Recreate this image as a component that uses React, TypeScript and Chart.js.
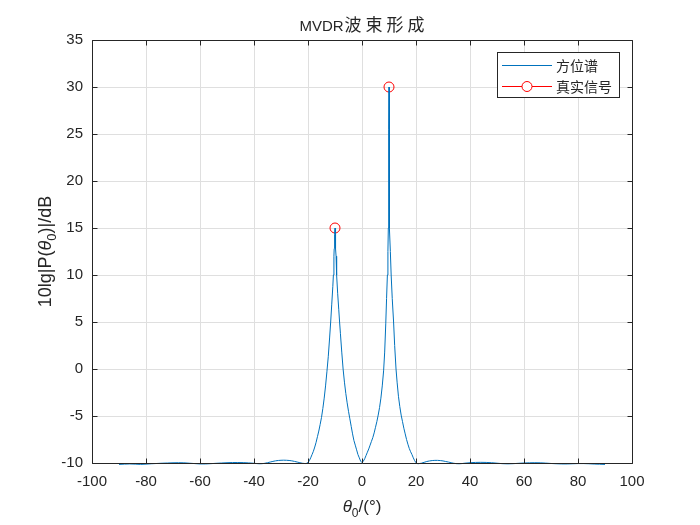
import React, { useEffect, useRef } from "react";
import { Chart, registerables } from "chart.js";

Chart.register(...registerables);

// MVDR spatial spectrum: [angle in degrees, power in dB]
const spectrumCurve: [number, number][] = [
  [-90, -10.15], [-88, -10.12], [-86, -10.1], [-84, -10.12], [-82, -10.15], [-80, -10.12],
  [-78, -10.08], [-76, -10.05], [-74, -10.02], [-72, -10.0], [-70, -9.98], [-68, -9.97],
  [-66, -9.98], [-64, -10.02], [-62, -10.06], [-60, -10.1], [-58, -10.1], [-56, -10.07],
  [-54, -10.03], [-52, -10.0], [-50, -9.97], [-48, -9.95], [-46, -9.95], [-44, -9.96],
  [-42, -9.99], [-40, -10.03], [-39, -10.06], [-38, -10.08], [-37, -10.07], [-36, -10.03],
  [-35, -9.97], [-34, -9.9], [-33, -9.83], [-32, -9.77], [-31, -9.73], [-30, -9.71],
  [-29, -9.7], [-28, -9.71], [-27, -9.73], [-26, -9.77], [-25, -9.83], [-24, -9.9],
  [-23, -9.97], [-22, -10.03], [-21, -10.06], [-20.5, -10.03],
  [-20, -9.95], [-19.5, -9.75], [-19, -9.45], [-18.5, -9.1], [-18, -8.75], [-17.5, -8.3],
  [-17, -7.8], [-16.5, -7.2], [-16, -6.6], [-15.5, -5.9], [-15, -5.15], [-14.5, -4.2],
  [-14, -3.1], [-13.5, -1.8], [-13, -0.3], [-12.5, 1.3], [-12, 3.3], [-11.6, 5.0],
  [-11.2, 6.9], [-10.8, 8.8], [-10.6, 10.0], [-10.4, 12.0], [-10.3, 12.8], [-10.2, 13.6],
  [-10.1, 14.3], [-10, 15.0], [-9.9, 14.3], [-9.8, 13.6], [-9.7, 12.8], [-9.6, 12.0],
  [-9.4, 10.0], [-9.0, 8.0], [-8.6, 6.3], [-8.3, 5.0], [-8.0, 3.8], [-7.5, 1.8],
  [-7.0, 0.0], [-6.5, -1.4], [-6.0, -2.6], [-5.5, -3.6], [-5.0, -4.5], [-4.5, -5.3],
  [-4.0, -6.1], [-3.5, -6.9], [-3.0, -7.6], [-2.5, -8.1], [-2.0, -8.6], [-1.5, -9.1],
  [-1.0, -9.45], [-0.5, -9.8], [0, -9.95],
  [0.5, -9.8], [1, -9.55], [1.5, -9.2], [2, -8.85], [2.5, -8.5], [3, -8.1],
  [3.5, -7.7], [4, -7.3], [4.5, -6.8], [5, -6.2], [5.5, -5.6], [6, -4.9],
  [6.5, -4.1], [7, -3.1], [7.5, -1.8], [8, -0.2], [8.4, 1.8], [8.8, 4.8],
  [9.1, 7.5], [9.4, 10.0], [9.6, 12.5], [9.75, 15.0], [9.85, 18.5], [9.9, 21.5],
  [9.95, 25.5], [10, 30.0], [10.05, 25.5], [10.1, 21.5], [10.15, 18.5], [10.3, 15.0],
  [10.5, 12.5], [10.8, 10.0], [11.2, 7.5], [11.7, 5.0], [12.1, 2.5], [12.6, 0.0],
  [13, -1.4], [13.5, -2.9], [14, -4.0], [14.5, -4.9], [15, -5.6], [15.5, -6.3],
  [16, -6.9], [16.5, -7.5], [17, -8.0], [17.5, -8.45], [18, -8.8], [18.5, -9.1],
  [19, -9.45], [19.5, -9.75], [20, -9.98],
  [20.5, -10.06], [21, -10.07], [22, -10.02], [23, -9.93], [24, -9.84], [25, -9.78],
  [26, -9.74], [27, -9.72], [28, -9.72], [29, -9.74], [30, -9.78], [31, -9.84],
  [32, -9.9], [33, -9.97], [34, -10.03], [35, -10.07], [36, -10.08], [37, -10.06],
  [38, -10.02], [40, -9.97], [42, -9.94], [44, -9.93], [46, -9.94], [48, -9.97],
  [50, -10.02], [52, -10.07], [54, -10.09], [56, -10.07], [58, -10.03], [60, -10.0],
  [62, -9.98], [64, -9.97], [66, -9.98], [68, -10.01], [70, -10.05], [72, -10.08],
  [74, -10.1], [76, -10.1], [78, -10.08], [80, -10.06], [82, -10.06], [84, -10.08],
  [86, -10.11], [88, -10.13], [90, -10.15],
];

const trueSignalAngles = [-10, 10];
const trueSignalPowers = [15, 30];

const xTickValues = [-100, -80, -60, -40, -20, 0, 20, 40, 60, 80, 100];
const yTickValues = [-10, -5, 0, 5, 10, 15, 20, 25, 30, 35];

const seriesNames = ["方位谱", "真实信号"];
const titleLatin = "MVDR";
const titleCjk = "波束形成";
const yLabelParts = ["10lg|P(", "θ", "0", ")|/dB"];
const xLabelParts = ["θ", "0", "/(°)"];

const BLUE = "#0072BD";
const RED = "#FF0000";
const AXIS = "#262626";
const GRID = "#dfdfdf";
const SANS = "'Liberation Sans', Arial, Helvetica, sans-serif";
const CJK = "'Noto Sans CJK SC', 'Noto Sans', sans-serif";

const align = (p: number) => Math.round(p - 0.5) + 0.5;

function drawMathLabel(ctx: CanvasRenderingContext2D, parts: string[], kinds: string[], size: number) {
  const fonts = kinds.map((k) =>
    k === "it" ? `italic ${size}px ${SANS}` : k === "sub" ? `${Math.round(size * 0.72)}px ${SANS}` : `${size}px ${SANS}`
  );
  const widths = parts.map((p, i) => {
    ctx.font = fonts[i];
    return ctx.measureText(p).width;
  });
  const total = widths.reduce((a, b) => a + b, 0);
  let x = -total / 2;
  parts.forEach((p, i) => {
    ctx.font = fonts[i];
    ctx.fillText(p, x, kinds[i] === "sub" ? size * 0.3 : 0);
    x += widths[i];
  });
}

const decorPlugin = {
  id: "matlabDecor",
  afterDatasetsDraw(chart: any) {
    const { ctx, chartArea: a, scales } = chart;
    const L = align(a.left), R = align(a.right), T = align(a.top), B = align(a.bottom);
    ctx.save();
    ctx.strokeStyle = AXIS;
    ctx.lineWidth = 1;
    ctx.beginPath();
    ctx.rect(L, T, R - L, B - T);
    ctx.stroke();
    const tl = 5;
    ctx.beginPath();
    xTickValues.forEach((v) => {
      const px = align(scales.x.getPixelForValue(v));
      ctx.moveTo(px, B); ctx.lineTo(px, B - tl);
      ctx.moveTo(px, T); ctx.lineTo(px, T + tl);
    });
    yTickValues.forEach((v) => {
      const py = align(scales.y.getPixelForValue(v));
      ctx.moveTo(L, py); ctx.lineTo(L + tl, py);
      ctx.moveTo(R, py); ctx.lineTo(R - tl, py);
    });
    ctx.stroke();
    ctx.restore();
  },
  afterDraw(chart: any) {
    const { ctx, chartArea: a } = chart;
    ctx.save();
    ctx.fillStyle = AXIS;
    ctx.textBaseline = "alphabetic";
    ctx.textAlign = "left";

    // Title
    const cx = (a.left + a.right) / 2;
    ctx.font = `15px ${SANS}`;
    const wLatin = ctx.measureText(titleLatin).width;
    const cjkSize = 17;
    const cjkPitch = 21;
    const totalW = wLatin + 1 + cjkPitch * (titleCjk.length - 1) + cjkSize;
    let tx = cx - totalW / 2;
    ctx.fillText(titleLatin, tx, 31);
    tx += wLatin + 1;
    ctx.font = `${cjkSize}px ${CJK}`;
    Array.from(titleCjk).forEach((ch, i) => {
      ctx.fillText(ch, tx + i * cjkPitch, 31);
    });

    // X label
    ctx.save();
    ctx.translate(cx, 512);
    drawMathLabel(ctx, xLabelParts, ["it", "sub", "n"], 17);
    ctx.restore();

    // Y label
    ctx.save();
    ctx.translate(51, (a.top + a.bottom) / 2);
    ctx.rotate(-Math.PI / 2);
    drawMathLabel(ctx, yLabelParts, ["n", "it", "sub", "n"], 18);
    ctx.restore();

    // Legend
    const lx = 497.5, ly = 52.5, lw = 122, lh = 45;
    ctx.fillStyle = "#ffffff";
    ctx.fillRect(lx, ly, lw, lh);
    ctx.strokeStyle = AXIS;
    ctx.lineWidth = 1;
    ctx.strokeRect(lx, ly, lw, lh);
    const rows = [65.5, 86.5];
    ctx.strokeStyle = BLUE;
    ctx.beginPath();
    ctx.moveTo(502, rows[0]); ctx.lineTo(552, rows[0]);
    ctx.stroke();
    ctx.strokeStyle = RED;
    ctx.beginPath();
    ctx.moveTo(502, rows[1]); ctx.lineTo(522, rows[1]);
    ctx.moveTo(532, rows[1]); ctx.lineTo(552, rows[1]);
    ctx.stroke();
    ctx.beginPath();
    ctx.arc(527, rows[1], 5, 0, Math.PI * 2);
    ctx.stroke();
    ctx.fillStyle = AXIS;
    ctx.font = `14px ${CJK}`;
    ctx.textBaseline = "middle";
    seriesNames.forEach((name, i) => ctx.fillText(name, 556, rows[i]));
    ctx.restore();
  },
};

export default function App() {
  const canvasRef = useRef<HTMLCanvasElement | null>(null);

  useEffect(() => {
    document.body.style.margin = "0";
    const canvas = canvasRef.current;
    if (!canvas) return;
    const chart = new Chart(canvas, {
      type: "line",
      data: {
        datasets: [
          {
            label: seriesNames[0],
            data: spectrumCurve.map(([x, y]) => ({ x, y })),
            borderColor: BLUE,
            borderWidth: 1,
            pointRadius: 0,
            tension: 0,
            fill: false,
            clip: { left: 1, right: 1, top: 1, bottom: 3 } as any,
          },
          {
            label: seriesNames[1],
            data: trueSignalAngles.map((x, i) => ({ x, y: trueSignalPowers[i] })),
            showLine: false,
            pointStyle: "circle",
            pointRadius: 5,
            pointBorderWidth: 1,
            pointBorderColor: RED,
            pointBackgroundColor: "rgba(0,0,0,0)",
            borderColor: RED,
            backgroundColor: "rgba(0,0,0,0)",
          },
        ],
      },
      options: {
        responsive: false,
        animation: false,
        devicePixelRatio: 1,
        events: [],
        layout: { padding: { top: 40, right: 68, left: 0, bottom: 0 } },
        plugins: {
          legend: { display: false },
          title: { display: false },
          tooltip: { enabled: false },
        },
        scales: {
          x: {
            type: "linear",
            min: -100,
            max: 100,
            afterBuildTicks: (s: any) => {
              s.ticks = xTickValues.map((value) => ({ value }));
            },
            afterFit: (s: any) => {
              s.height = 62;
            },
            border: { display: false },
            grid: { color: GRID, lineWidth: 1, drawTicks: false },
            ticks: {
              color: AXIS,
              padding: 10,
              maxRotation: 0,
              autoSkip: false,
              font: { family: SANS, size: 15 },
              callback: (v: any) => String(v),
            },
          },
          y: {
            type: "linear",
            min: -10,
            max: 35,
            afterBuildTicks: (s: any) => {
              s.ticks = yTickValues.map((value) => ({ value }));
            },
            afterFit: (s: any) => {
              s.width = 92;
            },
            border: { display: false },
            grid: { color: GRID, lineWidth: 1, drawTicks: false },
            ticks: {
              color: AXIS,
              padding: 9,
              autoSkip: false,
              font: { family: SANS, size: 15 },
              callback: (v: any) => String(v),
            },
          },
        },
      },
      plugins: [decorPlugin],
    });
    return () => chart.destroy();
  }, []);

  return (
    <div style={{ width: 700, height: 525, background: "#ffffff" }}>
      <canvas ref={canvasRef} width={700} height={525} style={{ display: "block" }} />
    </div>
  );
}
